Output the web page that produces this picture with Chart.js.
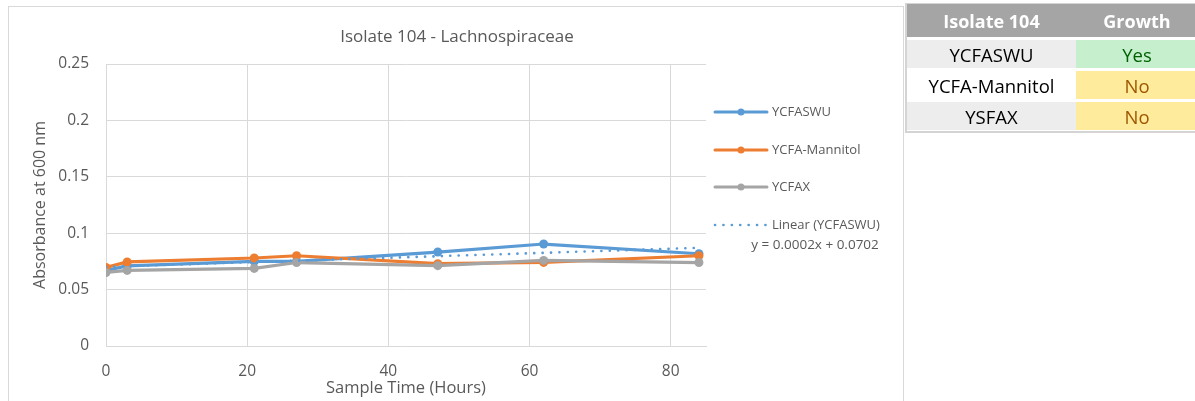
<!DOCTYPE html>
<html>
<head>
<meta charset="utf-8">
<script src="https://cdn.jsdelivr.net/npm/chart.js@4.4.1/dist/chart.umd.min.js"></script>
<style>
    html, body { margin: 0; padding: 0; background: #fff; }
    body { width: 1195px; height: 401px; overflow: hidden; position: relative; font-family: "Open Sans", Lato, sans-serif; }
    #frame {
        position: absolute; left: 8px; top: 6px; width: 896px; height: 420px;
        border: 1px solid #d9d9d9; box-sizing: border-box;
    }
    #chartBox { position: absolute; left: 0; top: 0; width: 906px; height: 401px; }
    #growth {
        position: absolute; left: 905px; top: 3px; width: 300px;
        border-left: 2px solid #d4d4d4; border-top: 1px solid #d4d4d4; border-bottom: 2px solid #d4d4d4;
        padding: 0 0 1px 0;
    }
    .row { display: flex; margin-bottom: 3px; }
    .row:last-child { margin-bottom: 0; }
    .cell { display: flex; align-items: center; justify-content: center; font-size: 18.5px; color: #000; }
    .c1 { width: 169px; }
    .c2 { width: 122px; }
    .head .cell { background: #a5a5a5; color: #fff; font-weight: bold; height: 33px; font-size: 18px; }
    .body .cell { height: 28px; }
    .grey { background: #ededed; }
    .white { background: #fff; }
    .yes { background: #c6efce; color: #006100; }
    .no { background: #ffeb9c; color: #9c5700; }
</style>
</head>
<body>
<div id="frame"></div>
<div id="chartBox"><canvas id="isolateChart" width="906" height="401"></canvas></div>
<div id="growth"></div>

<script>
// sample times (hours) and absorbance readings
const sampleHours = [0, 3, 21, 27, 47, 62, 84];
const ycfaswu = [0.067, 0.071, 0.075, 0.075, 0.0833, 0.0904, 0.0818];
const ycfaMannitol = [0.0697, 0.0745, 0.078, 0.080, 0.073, 0.0741, 0.080];
const ycfax = [0.0652, 0.067, 0.0688, 0.074, 0.0712, 0.0759, 0.074];

// linear trendline for YCFASWU, as printed on the chart
const trendSlope = 0.0002;
const trendIntercept = 0.0702;
const trendLabel = "y = 0.0002x + 0.0702";

const chartTitle = "Isolate 104 - Lachnospiraceae";
const xTicks = [0, 20, 40, 60, 80];
const yTicks = [0, 0.05, 0.1, 0.15, 0.2, 0.25];

// growth table
const tableHeader = ["Isolate 104", "Growth"];
const mediaNames = ["YCFASWU", "YCFA-Mannitol", "YSFAX"];
const growthResults = ["Yes", "No", "No"];

const BLUE = "#5b9bd5";
const ORANGE = "#ed7d31";
const GREY = "#a5a5a5";
const TEXT = "#595959";
const FONT = "'Open Sans', Lato, sans-serif";

function buildTable() {
    const box = document.getElementById("growth");
    let html = `<div class="row head"><div class="cell c1">${tableHeader[0]}</div><div class="cell c2">${tableHeader[1]}</div></div>`;
    mediaNames.forEach((name, i) => {
        const shade = i % 2 === 1 ? "white" : "grey";
        const res = growthResults[i] === "Yes" ? "yes" : "no";
        html += `<div class="row body"><div class="cell c1 ${shade}">${name}</div><div class="cell c2 ${res}">${growthResults[i]}</div></div>`;
    });
    box.innerHTML = html;
}

function toPoints(values) {
    return sampleHours.map((h, i) => ({ x: h, y: values[i] }));
}

const trendPoints = [sampleHours[0], sampleHours[sampleHours.length - 1]].map((h) => ({
    x: h,
    y: trendSlope * h + trendIntercept,
}));

// title centred on the whole chart frame, legend to the right of the plot
const sideLegend = {
    id: "sideLegend",
    afterDraw(chart) {
        const ctx = chart.ctx;
        const area = chart.chartArea;
        ctx.save();
        ctx.fillStyle = TEXT;
        ctx.font = `17px ${FONT}`;
        ctx.textAlign = "center";
        ctx.textBaseline = "middle";
        ctx.fillText(chartTitle, 457, 37);

        const x0 = area.right + 9;
        const x1 = x0 + 52;
        const items = [
            { label: "YCFASWU", color: BLUE, y: 112 },
            { label: "YCFA-Mannitol", color: ORANGE, y: 150 },
            { label: "YCFAX", color: GREY, y: 187 },
        ];
        ctx.textAlign = "left";
        ctx.font = `13px ${FONT}`;
        items.forEach((it) => {
            ctx.strokeStyle = it.color;
            ctx.lineWidth = 3;
            ctx.lineCap = "round";
            ctx.beginPath();
            ctx.moveTo(x0, it.y);
            ctx.lineTo(x1, it.y);
            ctx.stroke();
            ctx.fillStyle = it.color;
            ctx.beginPath();
            ctx.arc((x0 + x1) / 2, it.y, 3.5, 0, Math.PI * 2);
            ctx.fill();
            ctx.fillStyle = TEXT;
            ctx.fillText(it.label, x1 + 5, it.y);
        });

        // trendline entry
        ctx.strokeStyle = BLUE;
        ctx.lineWidth = 2.6;
        ctx.setLineDash([0.1, 8.3]);
        ctx.beginPath();
        ctx.moveTo(x0, 225);
        ctx.lineTo(x1, 225);
        ctx.stroke();
        ctx.setLineDash([]);
        ctx.fillStyle = TEXT;
        ctx.fillText("Linear (YCFASWU)", x1 + 5, 225);

        ctx.font = `13.5px ${FONT}`;
        ctx.textAlign = "center";
        ctx.fillText(trendLabel, 815, 245);
        ctx.restore();
    },
};

function buildChart() {
    const canvas = document.getElementById("isolateChart");
    const lineSet = (label, values, color, order) => ({
        label,
        data: toPoints(values),
        borderColor: color,
        backgroundColor: color,
        borderWidth: 3.2,
        pointRadius: 4.5,
        pointBorderWidth: 0,
        pointHoverRadius: 4.5,
        tension: 0,
        order,
    });

    new Chart(canvas, {
        type: "line",
        data: {
            datasets: [
                lineSet("YCFASWU", ycfaswu, BLUE, 3),
                lineSet("YCFA-Mannitol", ycfaMannitol, ORANGE, 2),
                lineSet("YCFAX", ycfax, GREY, 1),
                {
                    label: "Linear (YCFASWU)",
                    data: trendPoints,
                    borderColor: BLUE,
                    borderWidth: 2.6,
                    borderDash: [0.1, 8.3],
                    borderCapStyle: "round",
                    pointRadius: 0,
                    order: 0,
                },
            ],
        },
        options: {
            responsive: false,
            animation: false,
            events: [],
            layout: { padding: { left: 0, right: 200, top: 64, bottom: 0 } },
            plugins: {
                legend: { display: false },
                tooltip: { enabled: false },
                title: { display: false },
            },
            scales: {
                x: {
                    type: "linear",
                    min: 0,
                    max: 85,
                    afterBuildTicks: (scale) => { scale.ticks = xTicks.map((v) => ({ value: v })); },
                    afterFit: (scale) => { scale.height = 55; },
                    grid: { color: "#d9d9d9", lineWidth: 1, drawTicks: false },
                    border: { color: "#d9d9d9", width: 1 },
                    ticks: { color: TEXT, font: { family: FONT, size: 15.5 }, padding: 16, maxRotation: 0 },
                    title: {
                        display: true,
                        text: "Sample Time (Hours)",
                        color: TEXT,
                        font: { family: FONT, size: 16.5 },
                        padding: { top: 0, bottom: 3 },
                    },
                },
                y: {
                    min: 0,
                    max: 0.25,
                    afterBuildTicks: (scale) => { scale.ticks = yTicks.map((v) => ({ value: v })); },
                    afterFit: (scale) => { scale.width = 106; },
                    grid: { color: "#d9d9d9", lineWidth: 1, drawTicks: false },
                    border: { color: "#d9d9d9", width: 1 },
                    ticks: { color: TEXT, font: { family: FONT, size: 15.5 }, padding: 17, callback: (v) => String(v) },
                    title: {
                        display: true,
                        text: "Absorbance at 600 nm",
                        color: TEXT,
                        font: { family: FONT, size: 16 },
                        padding: { top: 31, bottom: 0 },
                    },
                },
            },
        },
        plugins: [sideLegend],
    });
}

buildTable();
buildChart();
</script>
</body>
</html>
